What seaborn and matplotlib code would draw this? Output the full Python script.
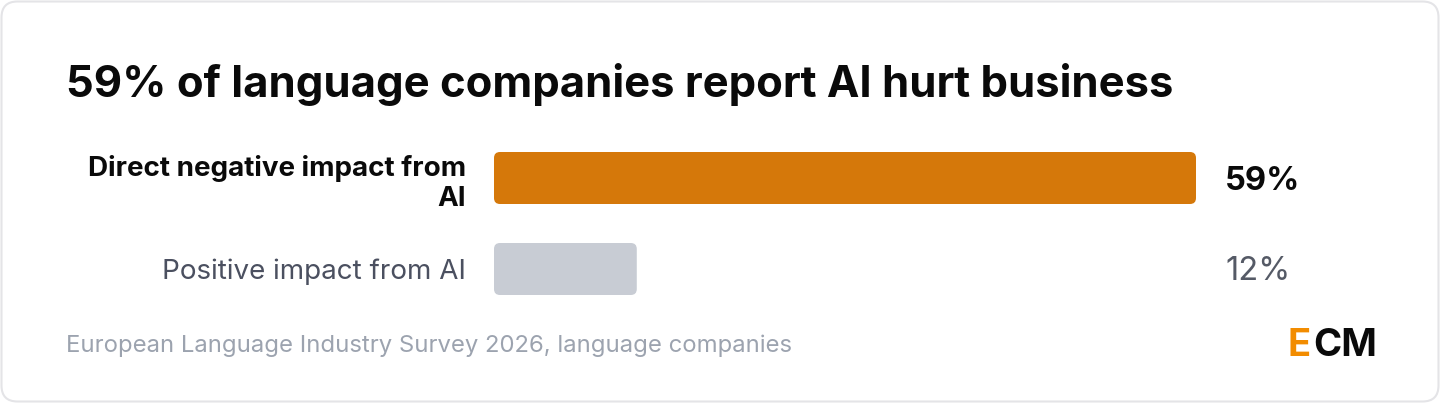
import matplotlib
matplotlib.use("Agg")
import matplotlib.pyplot as plt
import seaborn as sns
import pandas as pd
from matplotlib.patches import FancyBboxPatch

# ---- data ----
categories = ["Direct negative impact from\nAI", "Positive impact from AI"]
values = [59, 12]
value_labels = ["59%", "12%"]
title = "59% of language companies report AI hurt business"
source = "European Language Industry Survey 2026, language companies"

W, H = 1440, 403
sns.set_theme(style="white")
plt.rcParams["font.family"] = ["Inter", "DejaVu Sans"]

fig = plt.figure(figsize=(W / 100, H / 100), dpi=100)
fig.patch.set_facecolor("white")

# background card axes in pixel coordinates
bg = fig.add_axes([0, 0, 1, 1], zorder=-1)
bg.set_xlim(0, W)
bg.set_ylim(H, 0)
bg.axis("off")
card = FancyBboxPatch((1.5, 1.5), W - 3, H - 3,
                      boxstyle="round,pad=0,rounding_size=16",
                      facecolor="white", edgecolor="#e4e4e7", linewidth=1.5)
bg.add_patch(card)

bg.text(66, 84, title, fontsize=31.4, fontweight="bold", color="#0a0a0a",
        ha="left", va="center")
bg.text(66, 346, source, fontsize=17.2, color="#9ca3af", ha="left", va="center")
bg.text(1287, 346, "E", fontsize=27.5, fontweight="bold", color="#f28c00",
        ha="left", va="center")
bg.text(1313, 346, "CM", fontsize=27.5, fontweight="bold", color="#0a0a0a",
        ha="left", va="center")

# main bar axes
x0, x1 = 494, 1196
yc0, yc1 = 178, 269
step = yc1 - yc0
ytop = yc0 - step / 2
ybot = yc1 + step / 2
ax = fig.add_axes([x0 / W, 1 - ybot / H, (x1 - x0) / W, (ybot - ytop) / H])
ax.patch.set_alpha(0)

df = pd.DataFrame({"category": categories, "value": values})
bar_colors = ["#d5780a", "#c8ccd4"]
sns.barplot(data=df, x="value", y="category", hue="category",
            palette=bar_colors, orient="h", width=52 / step, ax=ax,
            legend=False, saturation=1)
ax.set_xlim(0, max(values))
ax.set_ylim(len(categories) - 0.5, -0.5)

# replace bars with rounded versions
px_per_x = (x1 - x0) / max(values)
px_per_y = step
r_px = 6
for p in list(ax.patches):
    x, y = p.get_x(), p.get_y()
    w, h = p.get_width(), p.get_height()
    fc = p.get_facecolor()
    p.remove()
    rx = r_px / px_per_x
    aspect = (r_px / px_per_y) / rx
    ax.add_patch(FancyBboxPatch((x, y), w, h,
                                boxstyle=f"round,pad=0,rounding_size={rx}",
                                mutation_aspect=aspect,
                                facecolor=fc, edgecolor="none"))

sns.despine(ax=ax, left=True, bottom=True)
ax.set_xlabel("")
ax.set_ylabel("")
ax.set_xticks([])
ax.tick_params(axis="y", length=0, pad=20)
label_styles = [("bold", "#0a0a0a"), ("normal", "#4b5060")]
for t, (fw, c) in zip(ax.get_yticklabels(), label_styles):
    t.set_fontsize(20)
    t.set_fontweight(fw)
    t.set_color(c)
    t.set_linespacing(1.25)

val_styles = [("bold", "#0a0a0a"), ("normal", "#555a66")]
for i, (lab, (fw, c)) in enumerate(zip(value_labels, val_styles)):
    ax.text(1 + 29 / (x1 - x0), i + 3 / step, lab,
            transform=ax.get_yaxis_transform(),
            fontsize=23.5, fontweight=fw, color=c, ha="left", va="center")

fig.savefig("out.png", dpi=100, facecolor="white")
